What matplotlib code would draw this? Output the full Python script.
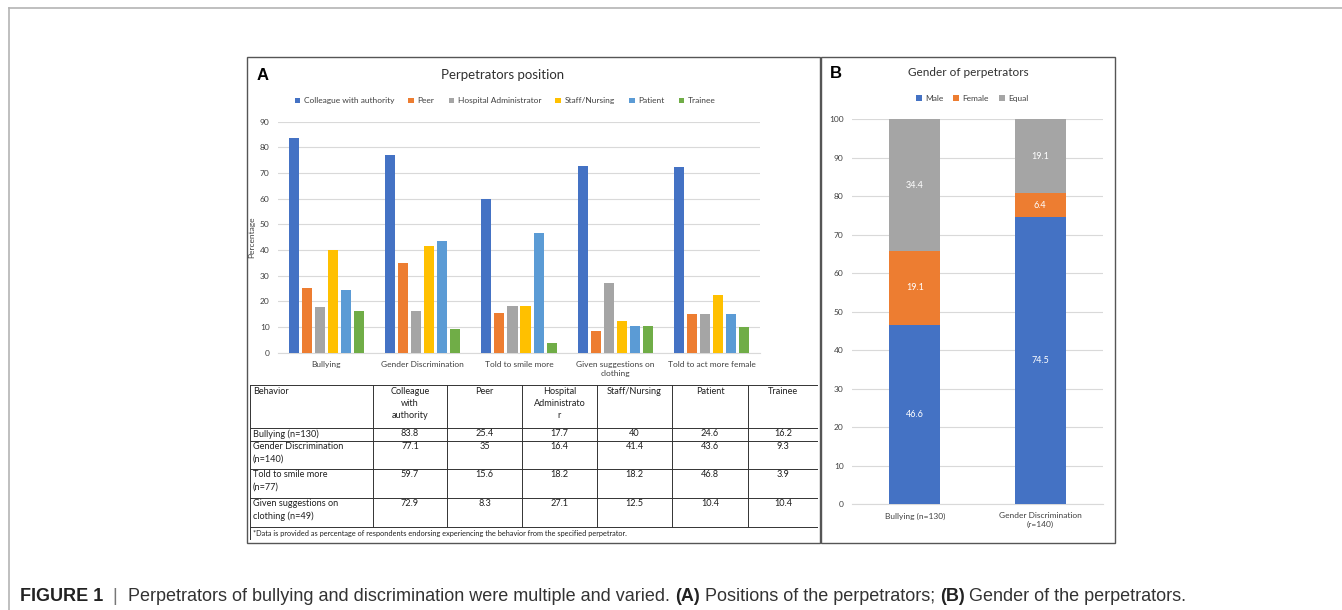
# coding:utf-8
from matplotlib import pyplot as plt
from matplotlib.patches import Rectangle
from matplotlib.lines import Line2D
import numpy as np

W, H = 1342, 610

# panel A data
behaviors = ['Bullying', 'Gender Discrimination', 'Told to smile more',
             'Given suggestions on\nclothing', 'Told to act more female']
positions = ['Colleague with authority', 'Peer', 'Hospital Administrator',
             'Staff/Nursing', 'Patient', 'Trainee']
colleague = [83.8, 77.1, 59.7, 72.9, 72.5]
peer = [25.4, 35.0, 15.6, 8.3, 15.0]
administrator = [17.7, 16.4, 18.2, 27.1, 15.0]
staff = [40.0, 41.4, 18.2, 12.5, 22.3]
patient = [24.6, 43.6, 46.8, 10.4, 15.0]
trainee = [16.2, 9.3, 3.9, 10.4, 10.0]
pos_colors = ['#4472C4', '#ED7D31', '#A5A5A5', '#FFC000', '#5B9BD5', '#70AD47']

# table under panel A
table_header = ['Behavior', 'Colleague\nwith\nauthority', 'Peer',
                'Hospital\nAdministrato\nr', 'Staff/Nursing', 'Patient', 'Trainee']
table_rows = ['Bullying (n=130)', 'Gender Discrimination\n(n=140)',
              'Told to smile more\n(n=77)', 'Given suggestions on\nclothing (n=49)']
table_vals = [['83.8', '25.4', '17.7', '40', '24.6', '16.2'],
              ['77.1', '35', '16.4', '41.4', '43.6', '9.3'],
              ['59.7', '15.6', '18.2', '18.2', '46.8', '3.9'],
              ['72.9', '8.3', '27.1', '12.5', '10.4', '10.4']]
table_note = ('*Data is provided as percentage of respondents endorsing experiencing '
              'the behavior from the specified perpetrator.')

# panel B data
gender_cats = ['Bullying (n=130)', 'Gender Discrimination\n(r=140)']
gender_names = ['Male', 'Female', 'Equal']
male = [46.6, 74.5]
female = [19.1, 6.4]
equal = [34.4, 19.1]
gender_colors = ['#4472C4', '#ED7D31', '#A5A5A5']

plt.rcParams['font.family'] = ['Lato', 'DejaVu Sans']


def box(x0, y0, x1, y1):
    # pixel box -> figure fraction rect
    return [x0 / W, 1 - y1 / H, (x1 - x0) / W, (y1 - y0) / H]


def fx(x):
    return x / W


def fy(y):
    return 1 - y / H


fig = plt.figure(figsize=(W / 100, H / 100), dpi=100)

# outer frame (top and left only)
fig.add_artist(Line2D([fx(9), 1], [fy(8), fy(8)], color='#b4b4b4', lw=1.2))
fig.add_artist(Line2D([fx(9), fx(9)], [fy(8), 0], color='#b4b4b4', lw=1.2))

# panel borders
for x0, x1 in [(247, 820), (821, 1115)]:
    fig.add_artist(Rectangle((fx(x0), fy(543)), (x1 - x0) / W, 486 / H,
                             fill=False, edgecolor='#555555', lw=1.0))

# ---------- panel A ----------
axA = fig.add_axes(box(278, 121.7, 760, 352.7))
x = np.arange(len(behaviors))
series = [colleague, peer, administrator, staff, patient, trainee]
pitch = 0.135
width = 0.104
for i, (vals, name, col) in enumerate(zip(series, positions, pos_colors)):
    axA.bar(x + (i - 2.5) * pitch, vals, width, color=col, label=name, zorder=3)
axA.set_xlim(-0.5, 4.5)
axA.set_ylim(0, 90)
axA.set_yticks(np.arange(0, 91, 10))
axA.set_xticks(x)
axA.set_xticklabels(behaviors, fontsize=6, linespacing=1.3)
axA.tick_params(labelsize=6, length=0, colors='#404040', pad=6)
axA.grid(axis='y', color='#d9d9d9', lw=0.8, zorder=0)
for s in ['top', 'right', 'left']:
    axA.spines[s].set_visible(False)
axA.spines['bottom'].set_color('#d9d9d9')
axA.set_ylabel('Percentage', fontsize=6, color='#404040', labelpad=3)

fig.text(fx(257), fy(75), 'A', fontsize=12, fontweight='bold',
         family=['Liberation Sans'], va='center', ha='left')
fig.text(fx(503), fy(75), 'Perpetrators position', fontsize=9.5,
         color='#303030', va='center', ha='center')
handles, labels = axA.get_legend_handles_labels()
fig.legend(handles, labels, loc='center', bbox_to_anchor=(fx(505), fy(101)),
           ncol=6, frameon=False, fontsize=6, handlelength=0.7,
           handleheight=0.7, handletextpad=0.4, columnspacing=1.7,
           labelcolor='#404040')

# table
axT = fig.add_axes(box(250, 385, 818, 540))
axT.set_xlim(250, 818)
axT.set_ylim(540, 385)
axT.axis('off')
col_edges = [250, 373, 447, 522, 597, 672, 748, 818]
row_edges = [385, 428, 441, 469, 498, 527, 540]
lc = '#333333'
for yy in row_edges:
    axT.plot([250, 818], [yy, yy], color=lc, lw=0.7)
for xx in col_edges:
    bottom = 540 if xx in (250, 818) else 527
    axT.plot([xx, xx], [385, bottom], color=lc, lw=0.7)
tfs = 6.6
for j, head in enumerate(table_header):
    if j == 0:
        axT.text(col_edges[0] + 3, 386.5, head, fontsize=tfs, va='top',
                 ha='left', linespacing=1.45, color='#202020')
    else:
        axT.text((col_edges[j] + col_edges[j + 1]) / 2, 386.5, head,
                 fontsize=tfs, va='top', ha='center', linespacing=1.45,
                 color='#202020')
for r, (lab, vals) in enumerate(zip(table_rows, table_vals)):
    top = row_edges[r + 1] + 1
    axT.text(col_edges[0] + 3, top, lab, fontsize=tfs, va='top', ha='left',
             linespacing=1.45, color='#202020')
    for j, v in enumerate(vals):
        axT.text((col_edges[j + 1] + col_edges[j + 2]) / 2, top, v,
                 fontsize=tfs, va='top', ha='center', color='#202020')
axT.text(col_edges[0] + 3, (527 + 540) / 2, table_note, fontsize=5.3,
         va='center', ha='left', color='#202020')

# ---------- panel B ----------
axB = fig.add_axes(box(852, 119.3, 1103, 504))
xb = np.arange(len(gender_cats))
bottom = np.zeros(len(gender_cats))
for vals, name, col in zip([male, female, equal], gender_names, gender_colors):
    bars = axB.bar(xb, vals, 0.41, bottom=bottom, color=col, label=name, zorder=3)
    for rect, v in zip(bars, vals):
        axB.text(rect.get_x() + rect.get_width() / 2,
                 rect.get_y() + rect.get_height() / 2, '{}'.format(v),
                 ha='center', va='center', color='white', fontsize=6.5, zorder=4)
    bottom = bottom + np.array(vals)
axB.set_xlim(-0.5, 1.5)
axB.set_ylim(0, 100)
axB.set_yticks(np.arange(0, 101, 10))
axB.set_xticks(xb)
axB.set_xticklabels(gender_cats, fontsize=6, linespacing=1.3)
axB.tick_params(labelsize=6, length=0, colors='#404040', pad=6)
axB.grid(axis='y', color='#d9d9d9', lw=0.8, zorder=0)
for s in ['top', 'right', 'left']:
    axB.spines[s].set_visible(False)
axB.spines['bottom'].set_color('#d9d9d9')

fig.text(fx(830), fy(74), 'B', fontsize=12, fontweight='bold',
         family=['Liberation Sans'], va='center', ha='left')
fig.text(fx(968), fy(73), 'Gender of perpetrators', fontsize=8.5,
         color='#303030', va='center', ha='center')
handles, labels = axB.get_legend_handles_labels()
fig.legend(handles, labels, loc='center', bbox_to_anchor=(fx(972), fy(98)),
           ncol=3, frameon=False, fontsize=6, handlelength=0.7,
           handleheight=0.7, handletextpad=0.4, columnspacing=1.2,
           labelcolor='#404040')

# ---------- caption ----------
cap_parts = [('FIGURE 1', 'bold', '#222222'), ('  |  ', 'normal', '#777777'),
             ('Perpetrators of bullying and discrimination were multiple and varied. ', 'normal', '#333333'),
             ('(A)', 'bold', '#222222'), (' Positions of the perpetrators; ', 'normal', '#333333'),
             ('(B)', 'bold', '#222222'), (' Gender of the perpetrators.', 'normal', '#333333')]
cap_fs = 13
anchor = fig.text(fx(20), fy(601), cap_parts[0][0], fontsize=cap_fs,
                  fontweight=cap_parts[0][1], color=cap_parts[0][2],
                  family=['Liberation Sans'], va='baseline', ha='left')
for txt, wt, col in cap_parts[1:]:
    # each piece starts where the previous one ends
    anchor = plt.annotate(txt, xy=(1, 0), xycoords=anchor, va='bottom',
                          ha='left', fontsize=cap_fs, fontweight=wt, color=col,
                          family=['Liberation Sans'], annotation_clip=False)

fig.savefig('out.png', dpi=100)
